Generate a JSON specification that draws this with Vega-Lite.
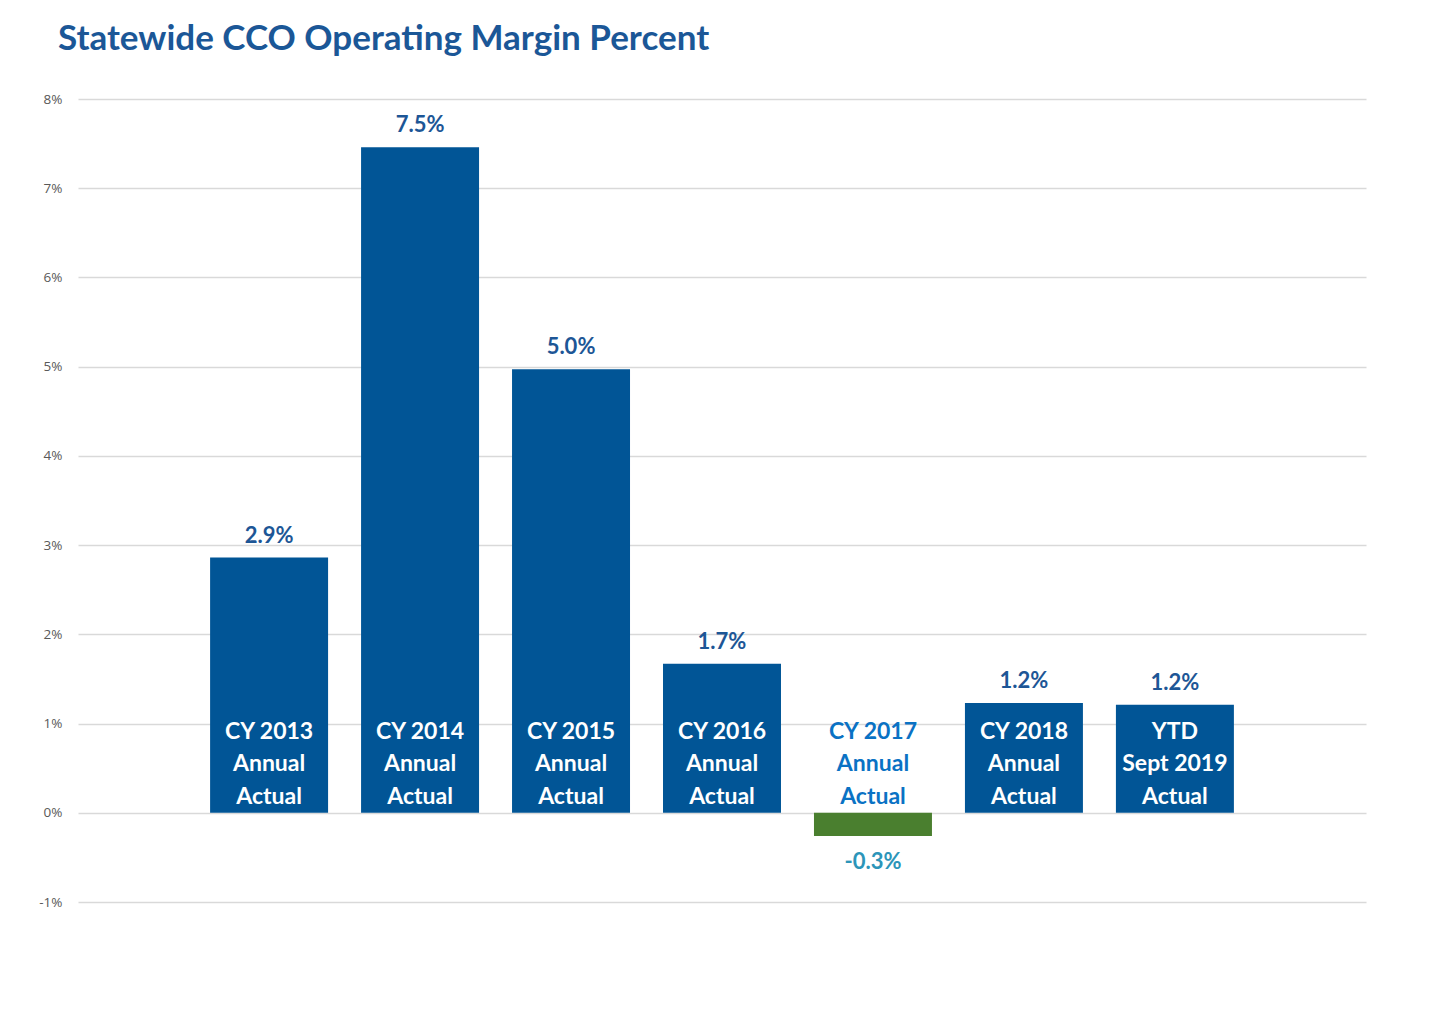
{
  "$schema": "https://vega.github.io/schema/vega-lite/v6.json",
  "autosize": {"type": "none"},
  "width": 1288,
  "height": 803,
  "padding": {"left": 78, "top": 99, "right": 71, "bottom": 117},
  "background": "white",
  "title": {
    "text": "Statewide CCO Operating Margin Percent",
    "anchor": "start",
    "frame": "group",
    "dx": -20,
    "offset": 35,
    "font": "Lato",
    "fontSize": 35,
    "fontWeight": "bold",
    "color": "#1B5797"
  },
  "config": {
    "view": {"stroke": null},
    "locale": {"number": {"decimal": ".", "thousands": ",", "grouping": [3], "currency": ["$", ""], "minus": "-", "percent": "%"}}
  },
  "data": {
    "values": [
      {"cat": "CY 2013\nAnnual\nActual", "value": 0.0286},
      {"cat": "CY 2014\nAnnual\nActual", "value": 0.0746},
      {"cat": "CY 2015\nAnnual\nActual", "value": 0.0497},
      {"cat": "CY 2016\nAnnual\nActual", "value": 0.0167},
      {"cat": "CY 2017\nAnnual\nActual", "value": -0.0026},
      {"cat": "CY 2018\nAnnual\nActual", "value": 0.0123},
      {"cat": "YTD\nSept 2019\nActual", "value": 0.0121}
    ]
  },
  "encoding": {
    "x": {"field": "cat", "type": "nominal", "sort": null, "axis": null,
          "scale": {"paddingInner": 0.2185, "paddingOuter": 0.875}}
  },
  "layer": [
    {
      "mark": {"type": "bar"},
      "encoding": {
        "y": {"field": "value", "type": "quantitative",
              "scale": {"domain": [-0.01, 0.08], "nice": false, "zero": true},
              "axis": {"title": null, "values": [-0.01, 0, 0.01, 0.02, 0.03, 0.04, 0.05, 0.06, 0.07, 0.08],
                       "format": ".0%", "domain": false, "ticks": false, "labelPadding": 16,
                       "labelFont": "Open Sans", "labelFontSize": 13.5, "labelColor": "#595959",
                       "gridColor": "#D9D9D9", "gridWidth": 1.3}},
        "color": {"condition": {"test": "datum.value < 0", "value": "#4A7F2F"}, "value": "#015596"}
      }
    },
    {
      "transform": [{"filter": "datum.value >= 0"}],
      "mark": {"type": "text", "baseline": "bottom", "dy": -10, "font": "Lato", "fontSize": 22, "fontWeight": "bold", "color": "#1D5696"},
      "encoding": {
        "y": {"field": "value", "type": "quantitative"},
        "text": {"field": "value", "type": "quantitative", "format": ".1%"}
      }
    },
    {
      "transform": [{"filter": "datum.value < 0"}],
      "mark": {"type": "text", "baseline": "top", "dy": 16, "font": "Lato", "fontSize": 22, "fontWeight": "bold", "color": "#2C95B9"},
      "encoding": {
        "y": {"field": "value", "type": "quantitative"},
        "text": {"field": "value", "type": "quantitative", "format": ".1%"}
      }
    },
    {
      "mark": {"type": "text", "baseline": "top", "dy": -92, "lineBreak": "\n", "lineHeight": 32.5, "font": "Lato", "fontSize": 23, "fontWeight": "bold"},
      "encoding": {
        "y": {"datum": 0, "type": "quantitative"},
        "text": {"field": "cat"},
        "color": {"condition": {"test": "datum.value < 0", "value": "#0A72C4"}, "value": "white"}
      }
    }
  ]
}
